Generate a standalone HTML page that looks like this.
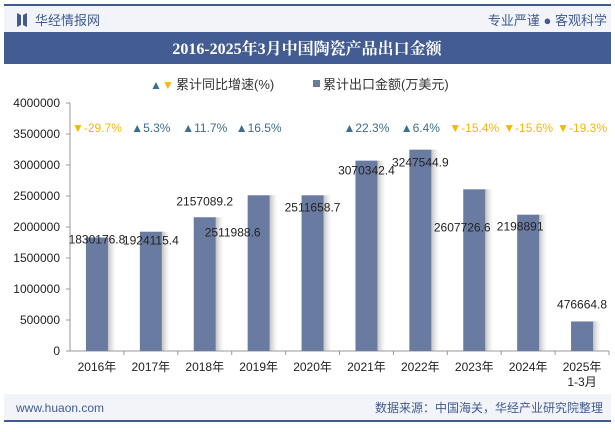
<!DOCTYPE html>
<html><head><meta charset="utf-8"><style>
body{margin:0;width:615px;height:427px;overflow:hidden;background:#fff;font-family:"Liberation Sans","Noto Sans CJK SC",sans-serif}
</style></head><body>
<svg width="615" height="427" xmlns="http://www.w3.org/2000/svg" font-family="Liberation Sans, Noto Sans CJK SC, sans-serif">
<defs><linearGradient id="sh" x1="0" x2="1"><stop offset="0" stop-color="#999" stop-opacity="0.6"/><stop offset="1" stop-color="#ccc" stop-opacity="0"/></linearGradient></defs>
<rect x="4" y="4" width="607" height="2" fill="#3F5B8F"/>
<rect x="4" y="6" width="607" height="26" fill="#F2F4F9"/>
<path d="M17 13 l4 2 v10 l-4 2z M27 13 l-4 2 v10 l4 2z" fill="#3F5B8F"/>
<text x="35" y="25" font-size="13" fill="#3F5B8F">华经情报网</text>
<text x="607" y="25" font-size="13" fill="#3F5B8F" text-anchor="end">专业严谨 ● 客观科学</text>
<rect x="4" y="32" width="607" height="32" fill="#435C91"/>
<text x="307" y="54" font-size="16" font-weight="bold" fill="#fff" text-anchor="middle" font-family="Liberation Serif, Noto Serif CJK SC, serif">2016-2025年3月中国陶瓷产品出口金额</text>
<g>
<text x="150" y="89" font-size="12" fill="#3B6E8F">▲</text>
<text x="162" y="89" font-size="12" fill="#F5B800">▼</text>
<text x="176" y="89" font-size="13" fill="#333">累计同比增速(%)</text>
<rect x="313" y="80" width="7" height="7" fill="#6A7BA2"/>
<text x="323" y="89" font-size="13" fill="#333">累计出口金额(万美元)</text>
</g>
<g id="chart"></g>
<rect x="4" y="394" width="607" height="26" fill="#F2F4F9"/>
<rect x="4" y="420" width="607" height="2" fill="#3F5B8F"/>
<text x="16" y="412" font-size="12" fill="#3F5B8F">www.huaon.com</text>
<text x="603" y="412" font-size="12" fill="#3F5B8F" text-anchor="end">数据来源：中国海关，华经产业研究院整理</text>
</svg>
<script>
const categories=["2016年","2017年","2018年","2019年","2020年","2021年","2022年","2023年","2024年","2025年"];
const values=[1830176.8,1924115.4,2157089.2,2511988.6,2511658.7,3070342.4,3247544.9,2607726.6,2198891,476664.8];
const valueLabels=["1830176.8","1924115.4","2157089.2","2511988.6","2511658.7","3070342.4","3247544.9","2607726.6","2198891","476664.8"];
const growth=[-29.7,5.3,11.7,16.5,null,22.3,6.4,-15.4,-15.6,-19.3];
const yTicks=[0,500000,1000000,1500000,2000000,2500000,3000000,3500000,4000000];
const labelDy=[6,13,-12,41,16,14,17,42,16,-13];
const labelDx=[0,0,0,-26,0,0,0,-12,-8,0];
const NS="http://www.w3.org/2000/svg",g=document.getElementById('chart');
const X0=70,X1=609,Y0=351,Y1=103,n=categories.length,bw=(X1-X0)/n;
const y=v=>Y0-(v/4000000)*(Y0-Y1), xc=i=>X0+bw*(i+0.5);
function mk(t,a,txt){const e=document.createElementNS(NS,t);for(const k in a)e.setAttribute(k,a[k]);if(txt!=null)e.textContent=txt;g.appendChild(e);return e;}
let e=mk('line',{x1:X0,y1:Y1,x2:X0,y2:Y0,stroke:'#999'});

e=mk('line',{x1:X0,y1:Y0,x2:X1,y2:Y0,stroke:'#999'});

yTicks.forEach(t=>{
 e=mk('line',{x1:X0-4,x2:X0,y1:y(t),y2:y(t),stroke:'#999'});
 
 e=mk('text',{x:X0-10,y:y(t)+4,'font-size':12,'text-anchor':'end',fill:'#222'},String(t));
 
});
categories.forEach((c,i)=>{
 e=mk('line',{x1:X0+bw*(i+1),x2:X0+bw*(i+1),y1:Y0,y2:Y0+4,stroke:'#999'});
 
 const cx=xc(i),top=y(values[i]);
 e=mk('rect',{x:cx+11,y:top,width:8,height:Y0-top,fill:'url(#sh)'});
 
 e=mk('rect',{x:cx-11,y:top,width:22,height:Y0-top,fill:'#6A7BA2'});
 
 e=mk('text',{x:cx+labelDx[i],y:top+labelDy[i],'font-size':12,'text-anchor':'middle',fill:'#222'},valueLabels[i]);
 
 e=mk('text',{x:cx,y:371,'font-size':12,'text-anchor':'middle',fill:'#222'},c);
 
 if(i===n-1){e=mk('text',{x:cx,y:386,'font-size':12,'text-anchor':'middle',fill:'#222'},'1-3月');
 }
 if(growth[i]!==null){const up=growth[i]>=0;
 e=mk('text',{x:cx,y:132,'font-size':12,'text-anchor':'middle',fill:up?'#3B6E8F':'#F5B800'},(up?'▲':'▼')+growth[i].toFixed(1)+'%');
 }
});
</script>
</body></html>
